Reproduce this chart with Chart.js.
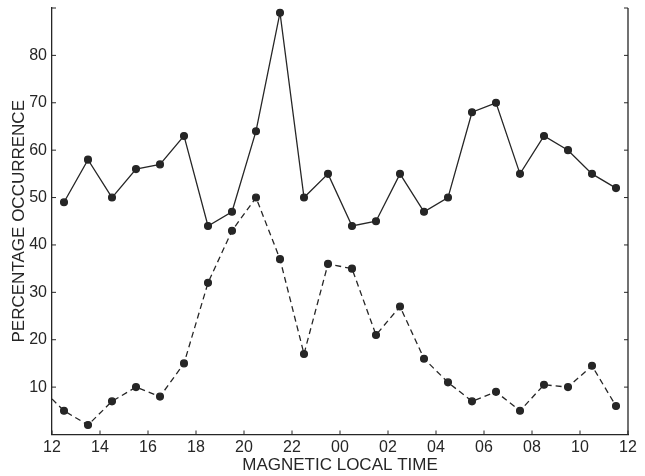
<!DOCTYPE html>
<html>
<head>
<meta charset="utf-8">
<script src="https://cdn.jsdelivr.net/npm/chart.js@4.4.1/dist/chart.umd.min.js"></script>
<style>
  html, body { margin: 0; padding: 0; background: #ffffff; }
  #wrap { width: 645px; height: 476px; }
</style>
</head>
<body>
<div id="wrap"><canvas id="c" width="645" height="476"></canvas></div>
<script>
// ---- data ----
const hours = [12.5, 13.5, 14.5, 15.5, 16.5, 17.5, 18.5, 19.5, 20.5, 21.5, 22.5, 23.5,
               24.5, 25.5, 26.5, 27.5, 28.5, 29.5, 30.5, 31.5, 32.5, 33.5, 34.5, 35.5];
const solidValues = [49, 58, 50, 56, 57, 63, 44, 47, 64, 89, 50, 55,
                     44, 45, 55, 47, 50, 68, 70, 55, 63, 60, 55, 52];
const dashedValues = [5, 2, 7, 10, 8, 15, 32, 43, 50, 37, 17, 36,
                      35, 21, 27, 16, 11, 7, 9, 5, 10.5, 10, 14.5, 6];
const dashedStartHour = 12;
const dashedStartValue = 7.5;
const xTickValues = [12, 14, 16, 18, 20, 22, 24, 26, 28, 30, 32, 34, 36];
const xTickLabels = ['12', '14', '16', '18', '20', '22', '00', '02', '04', '06', '08', '10', '12'];
const yTickValues = [0, 10, 20, 30, 40, 50, 60, 70, 80, 90];
const yTickLabels = ['', '10', '20', '30', '40', '50', '60', '70', '80', ''];
const xTitle = 'MAGNETIC LOCAL TIME';
const yTitle = 'PERCENTAGE OCCURRENCE';

const ink = '#262626';
const FONT = "'Liberation Sans', Arial, Helvetica, sans-serif";

const solidData = hours.map((h, i) => ({ x: h, y: solidValues[i] }));
const dashedData = [{ x: dashedStartHour, y: dashedStartValue }].concat(
  hours.map((h, i) => ({ x: h, y: dashedValues[i] })));

// inward tick marks + right frame line
const frameTicks = {
  id: 'frameTicks',
  afterDraw(chart) {
    const { ctx, chartArea: a, scales } = chart;
    const xs = scales.x, ys = scales.y;
    ctx.save();
    ctx.strokeStyle = ink;
    ctx.lineWidth = 1.3;
    ctx.beginPath();
    ctx.moveTo(a.right, ys.getPixelForValue(90));
    ctx.lineTo(a.right, ys.getPixelForValue(0));
    ctx.stroke();
    ctx.lineWidth = 1;
    const L = 4;
    yTickValues.forEach(v => {
      const py = ys.getPixelForValue(v);
      ctx.beginPath();
      ctx.moveTo(a.left, py); ctx.lineTo(a.left + L, py);
      ctx.moveTo(a.right, py); ctx.lineTo(a.right - L, py);
      ctx.stroke();
    });
    xTickValues.forEach(v => {
      const px = xs.getPixelForValue(v);
      ctx.beginPath();
      ctx.moveTo(px, a.bottom); ctx.lineTo(px, a.bottom - L);
      ctx.stroke();
    });
    ctx.restore();
  }
};

new Chart(document.getElementById('c'), {
  type: 'scatter',
  data: {
    datasets: [
      {
        data: solidData,
        showLine: true,
        borderColor: ink,
        borderWidth: 1.3,
        backgroundColor: ink,
        pointBackgroundColor: ink,
        pointBorderColor: ink,
        pointRadius: 3.4,
        tension: 0
      },
      {
        data: dashedData,
        showLine: true,
        borderColor: ink,
        borderWidth: 1.3,
        borderDash: [6, 4],
        backgroundColor: ink,
        pointBackgroundColor: ink,
        pointBorderColor: ink,
        pointRadius: ctx => (ctx.dataIndex === 0 ? 0 : 3.4),
        tension: 0
      }
    ]
  },
  options: {
    responsive: false,
    animation: false,
    devicePixelRatio: 1,
    layout: { padding: { top: 8, right: 17, left: 0, bottom: 0 } },
    plugins: { legend: { display: false }, tooltip: { enabled: false } },
    scales: {
      x: {
        type: 'linear',
        min: 12, max: 36,
        afterBuildTicks: s => { s.ticks = xTickValues.map(v => ({ value: v })); },
        afterFit: s => { s.height = 41.5; s.paddingLeft = 0; s.paddingRight = 0; },
        grid: { display: false, drawTicks: false },
        border: { display: true, color: ink, width: 1.3 },
        ticks: {
          color: ink, padding: 3,
          font: { family: FONT, size: 16 },
          maxRotation: 0, autoSkip: false,
          callback: (v) => { const i = xTickValues.indexOf(v); return i >= 0 ? xTickLabels[i] : ''; }
        },
        title: {
          display: true, text: xTitle, color: ink,
          font: { family: FONT, size: 17 },
          padding: { top: 2, bottom: 0 }
        }
      },
      y: {
        type: 'linear',
        min: 0, max: 90,
        afterBuildTicks: s => { s.ticks = yTickValues.map(v => ({ value: v })); },
        afterFit: s => { s.width = 52; s.paddingTop = 0; s.paddingBottom = 0; },
        grid: { display: false, drawTicks: false },
        border: { display: true, color: ink, width: 1.3 },
        ticks: {
          color: ink, padding: 5,
          font: { family: FONT, size: 16 },
          autoSkip: false,
          callback: (v) => { const i = yTickValues.indexOf(v); return i >= 0 ? yTickLabels[i] : ''; }
        },
        title: {
          display: true, text: yTitle, color: ink,
          font: { family: FONT, size: 17 },
          padding: { top: 9, bottom: 0 }
        }
      }
    }
  },
  plugins: [frameTicks]
});
</script>
</body>
</html>
